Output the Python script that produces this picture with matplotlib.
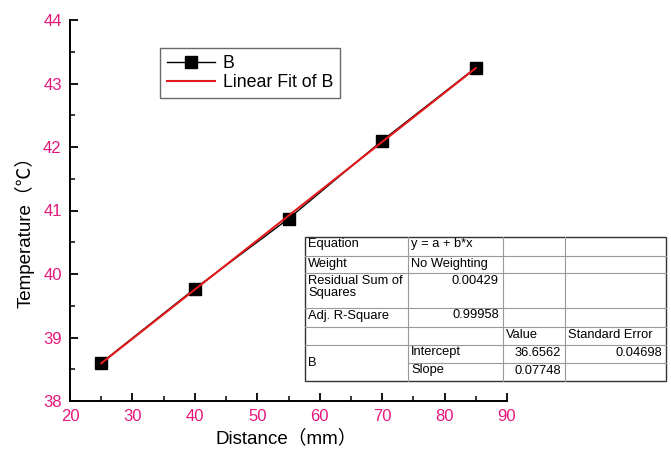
import numpy as np
import matplotlib
matplotlib.use("Agg")
import matplotlib.pyplot as plt
from matplotlib.ticker import MultipleLocator
from matplotlib.lines import Line2D

# data
distance = [25, 40, 55, 70, 85]
temperature = [38.60, 39.77, 40.87, 42.10, 43.25]
intercept = 36.6562
slope = 0.07748

table_rows = [
    ["Equation", "y = a + b*x", "", ""],
    ["Weight", "No Weighting", "", ""],
    ["Residual Sum of\nSquares", "0.00429", "", ""],
    ["Adj. R-Square", "0.99958", "", ""],
    ["", "", "Value", "Standard Error"],
    ["B", "Intercept", "36.6562", "0.04698"],
    ["", "Slope", "0.07748", ""],
]

fam = ['Liberation Sans', 'Noto Sans CJK SC', 'DejaVu Sans']
plt.rcParams['font.family'] = fam
pink = '#e6177c'

fig = plt.figure(figsize=(6.71, 4.53), dpi=100)
W, H = 671, 453
ax = fig.add_axes([70 / W, 1 - 401 / H, 437 / W, 381 / H])

ax.plot(distance, temperature, color='black', lw=1.0, marker='s',
        markersize=8.5, markerfacecolor='black', label='B', zorder=3)
xf = np.array([distance[0], distance[-1]])
ax.plot(xf, intercept + slope * xf, color='#e41a1c', lw=1.5,
        label='Linear Fit of B', zorder=4)

ax.set_xlim(20, 90)
ax.set_ylim(38, 44)
ax.xaxis.set_major_locator(MultipleLocator(10))
ax.xaxis.set_minor_locator(MultipleLocator(5))
ax.yaxis.set_major_locator(MultipleLocator(1))
ax.yaxis.set_minor_locator(MultipleLocator(0.5))
ax.tick_params(which='major', direction='in', length=6, width=1.3,
               labelsize=12, labelcolor=pink, pad=6)
ax.tick_params(which='minor', direction='in', length=3.5, width=1.1)
for s in ['top', 'right']:
    ax.spines[s].set_visible(False)
for s in ['left', 'bottom']:
    ax.spines[s].set_linewidth(1.4)

ax.set_xlabel('Distance（mm）', fontsize=13.5)
ax.set_ylabel('Temperature（℃）', fontsize=13.5)
ax.xaxis.set_label_coords(0.495, -0.075)
ax.yaxis.set_label_coords(-0.08, 0.455)

leg = ax.legend(loc='upper left', bbox_to_anchor=(160 / W, 1 - 48 / H),
                bbox_transform=fig.transFigure, fontsize=12.8, frameon=True,
                fancybox=False, edgecolor='#444444', handlelength=2.7,
                borderpad=0.38, labelspacing=0.15, handletextpad=0.45,
                borderaxespad=0)
leg.get_frame().set_linewidth(1.0)

# fit results table, drawn in figure pixels
cols = [305, 408, 503, 565, 666]
rows = [237, 256, 273, 308, 327, 345, 363, 381]
fx = lambda x: x / W
fy = lambda y: 1 - y / H
fig.patches.append(plt.Rectangle((fx(cols[0]), fy(rows[-1])),
                                 fx(cols[-1]) - fx(cols[0]), fy(rows[0]) - fy(rows[-1]),
                                 transform=fig.transFigure, facecolor='white',
                                 edgecolor='#333333', lw=1.0, zorder=5))
gray = '#999999'
for i in range(1, len(rows) - 1):
    x0 = cols[1] if i == 6 else cols[0]
    fig.add_artist(Line2D([fx(x0), fx(cols[-1])], [fy(rows[i])] * 2,
                          color=gray, lw=0.8, zorder=6))
for c in cols[1:-1]:
    fig.add_artist(Line2D([fx(c)] * 2, [fy(rows[0]), fy(rows[-1])],
                          color=gray, lw=0.8, zorder=6))

for r, row in enumerate(table_rows):
    for c, txt in enumerate(row):
        if not txt:
            continue
        numeric = txt[0].isdigit()
        if txt == "B":
            y = (rows[5] + rows[7]) / 2
            va = 'center'
        else:
            y = rows[r] + 1.5
            va = 'top'
        if numeric:
            x, ha = cols[c + 1] - 4, 'right'
        else:
            x, ha = cols[c] + 3, 'left'
        fig.text(fx(x), fy(y), txt, ha=ha, va=va, fontsize=9.3,
                 linespacing=1.1, zorder=7)

fig.savefig('out.png', dpi=100)
